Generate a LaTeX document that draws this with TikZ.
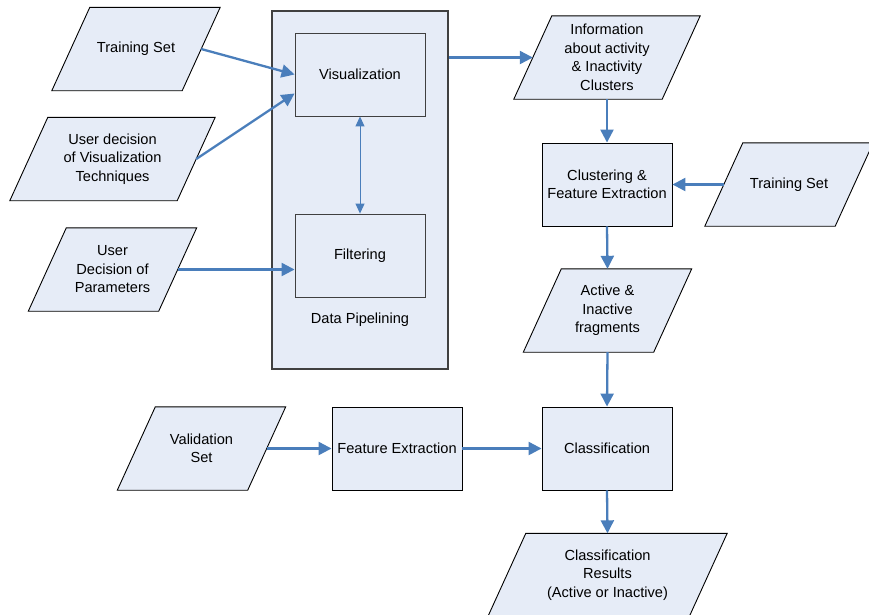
\documentclass[tikz,border=0pt]{standalone}
\usepackage{fontspec}
\setmainfont{Liberation Sans}
\usetikzlibrary{arrows.meta,backgrounds}
\definecolor{boxfill}{RGB}{230,236,247}
\definecolor{flowblue}{RGB}{74,126,187}
\definecolor{frame}{RGB}{64,64,64}
\tikzset{
  every node/.style={font=\fontsize{14.6}{18.5}\selectfont, align=center},
  process/.style={draw=black, line width=0.9pt, fill=boxfill, rectangle,
    minimum width=130pt, minimum height=83pt, inner sep=0pt},
  % data boxes: the node holds the text, its frame is drawn as a parallelogram
  iobox/.style={rectangle, minimum width=#1, minimum height=83pt, inner sep=0pt},
  iobox/.default=130pt,
  ioframe/.style={draw=black, line width=0.9pt, fill=boxfill, line join=miter},
  flow/.style={draw=flowblue, line width=2.3pt,
    -{Triangle[length=13pt,width=13pt]}},
  link/.style={draw=flowblue, line width=1pt,
    {Triangle[length=10pt,width=9pt]}-{Triangle[length=10pt,width=9pt]}},
}
% parallelogram round a data node, leaning to the right
\newcommand\dataframe[1]{%
  \path[ioframe] ([xshift=19pt]#1.north west) -- ([xshift=19pt]#1.north east)
    -- ([xshift=-19pt]#1.south east) -- ([xshift=-19pt]#1.south west) -- cycle;}
\begin{document}
\begin{tikzpicture}[x=1pt, y=-1pt]
\useasboundingbox (0,0) rectangle (869,614);

% data pipelining block with its two stages
\node[draw=frame, line width=1.1pt, fill=boxfill, minimum width=176pt,
  minimum height=358pt, inner sep=0pt] (dp) at (360,190) {};
\node[process, draw=frame] (vis) at (360,74.5) {Visualization};
\node[process, draw=frame] (filt) at (360,255.5) {Filtering};
\node (dplabel) at (360,320) {Data Pipelining};

% inputs on the left
\node[iobox] (ts1) at (136,49) {Training Set};
\node[iobox=167pt] (udv) at (112.5,159) {User decision\\of Visualization\\Techniques};
\node[iobox] (udp) at (112.5,269.5) {User\\Decision of\\Parameters};

% right-hand chain
\node[iobox=148pt] (info) at (607,57.5) {Information\\about activity\\\& Inactivity\\Clusters};
\node[process] (clus) at (607,184.5) {Clustering \&\\Feature Extraction};
\node[iobox] (ts2) at (789,184.5) {Training Set};
\node[iobox] (act) at (607.5,310.5) {Active \&\\Inactive\\fragments};
\node[process] (cls) at (607,448.5) {Classification};
\node[iobox=201pt] (res) at (607.5,575) {Classification\\Results\\(Active or Inactive)};

% validation path
\node[iobox] (val) at (201.5,448.5) {Validation\\Set};
\node[process] (fe) at (397,448.5) {Feature Extraction};

% parallelogram frames behind the data nodes
\begin{scope}[on background layer]
  \dataframe{ts1} \dataframe{udv} \dataframe{udp} \dataframe{info}
  \dataframe{ts2} \dataframe{act} \dataframe{res} \dataframe{val}
\end{scope}

% connectors
\draw[flow] (ts1.east) -- (vis.west);
\draw[flow] (udv.east) -- ([yshift=-19pt]vis.west);
\draw[flow] (udp.east) -- (udp.east -| filt.west);
\draw[link] (vis.south) -- (filt.north);
\draw[flow] (info.west -| dp.east) -- (info.west);
\draw[flow] (info.south) -- (clus.north);
\draw[flow] (ts2.west) -- (clus.east);
\draw[flow] (clus.south) -- (act.north);
\draw[flow] (act.south) -- (cls.north);
\draw[flow] (val.east) -- (fe.west);
\draw[flow] (fe.east) -- (cls.west);
\draw[flow] (cls.south) -- (res.north);
\end{tikzpicture}
\end{document}
